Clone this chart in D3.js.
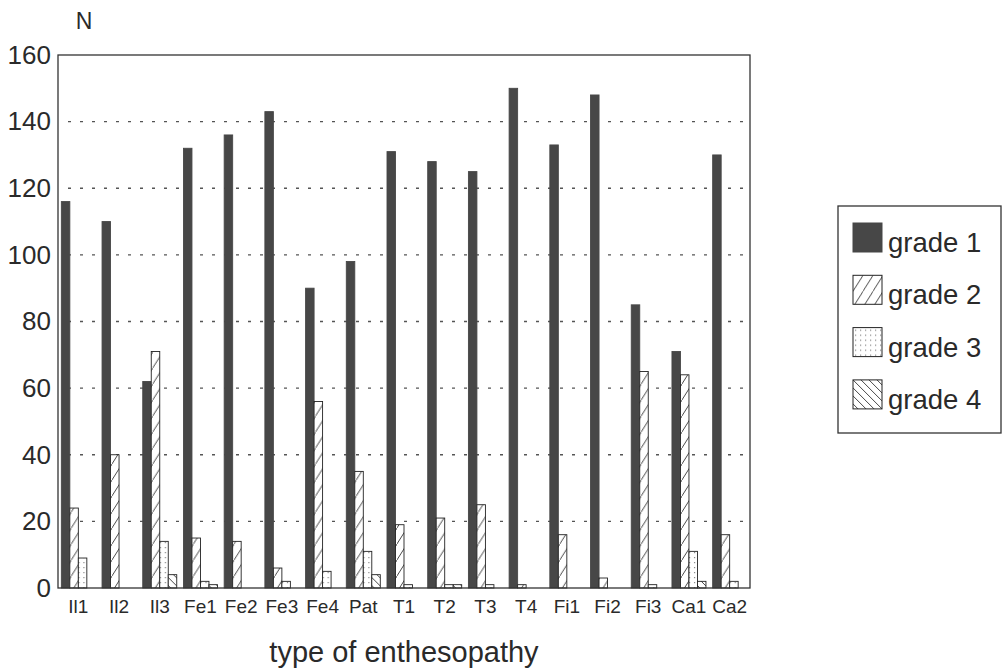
<!DOCTYPE html>
<html>
<head>
<meta charset="utf-8">
<script src="https://cdn.jsdelivr.net/npm/d3@7"></script>
<style>
  body { margin: 0; background: #fff; }
  text { font-family: "Liberation Sans", Arial, sans-serif; fill: #2a2a2a; }
</style>
</head>
<body>
<svg id="chart" width="1006" height="671"></svg>
<script>
const categories = ['Il1', 'Il2', 'Il3', 'Fe1', 'Fe2', 'Fe3', 'Fe4', 'Pat', 'T1', 'T2', 'T3', 'T4', 'Fi1', 'Fi2', 'Fi3', 'Ca1', 'Ca2']
const grades = ['grade 1', 'grade 2', 'grade 3', 'grade 4']
const grade1 = [116, 110, 62, 132, 136, 143, 90, 98, 131, 128, 125, 150, 133, 148, 85, 71, 130]
const grade2 = [24, 40, 71, 15, 14, 6, 56, 35, 19, 21, 25, 1, 16, 3, 65, 64, 16]
const grade3 = [9, 0, 14, 2, 0, 2, 5, 11, 1, 1, 1, 0, 0, 0, 1, 11, 2]
const grade4 = [0, 0, 4, 1, 0, 0, 0, 4, 0, 1, 0, 0, 0, 0, 0, 2, 0]
const yTicks = [0, 20, 40, 60, 80, 100, 120, 140, 160]

const series = [grade1, grade2, grade3, grade4]

const plotLeft = 58, plotRight = 750, plotTop = 55, plotBottom = 588

const svg = d3.select('#chart')

// hatch patterns
const defs = svg.append('defs')
const p2 = defs.append('pattern').attr('id', 'hatch2')
  .attr('patternUnits', 'userSpaceOnUse').attr('width', 10).attr('height', 16)
p2.append('rect').attr('width', 10).attr('height', 16).attr('fill', '#fff')
p2.append('path').attr('d', 'M-2,19 L12,-3').attr('stroke', '#333').attr('stroke-width', 0.9)

const p3 = defs.append('pattern').attr('id', 'hatch3')
  .attr('patternUnits', 'userSpaceOnUse').attr('width', 5).attr('height', 5)
p3.append('rect').attr('width', 5).attr('height', 5).attr('fill', '#fff')
p3.append('rect').attr('x', 2).attr('y', 2).attr('width', 1.2).attr('height', 1.2).attr('fill', '#888')

const p4 = defs.append('pattern').attr('id', 'hatch4')
  .attr('patternUnits', 'userSpaceOnUse').attr('width', 8).attr('height', 8)
p4.append('rect').attr('width', 8).attr('height', 8).attr('fill', '#fff')
p4.append('path').attr('d', 'M-1,-1 L9,9 M-5,3 L5,13 M3,-5 L13,5').attr('stroke', '#333').attr('stroke-width', 0.9)

const fills = ['#474747', 'url(#hatch2)', 'url(#hatch3)', 'url(#hatch4)']

const xScale = d3.scaleBand()
  .domain(categories)
  .range([plotLeft, plotRight])
  .paddingInner(0.165)
  .paddingOuter(0.082)

const xSub = d3.scaleBand()
  .domain(d3.range(4))
  .range([0, xScale.bandwidth()])

const yScale = d3.scaleLinear()
  .domain([0, 160])
  .range([plotBottom, plotTop])

// grid
svg.append('g')
  .selectAll('line')
  .data(yTicks.filter(d => d > 0 && d < 160))
  .enter()
  .append('line')
  .attr('x1', plotLeft + 10)
  .attr('x2', plotRight)
  .attr('y1', d => yScale(d))
  .attr('y2', d => yScale(d))
  .attr('stroke', '#555')
  .attr('stroke-width', 1.3)
  .attr('stroke-dasharray', '3,9')

// bars
const groups = svg.append('g')
  .selectAll('g')
  .data(categories)
  .enter()
  .append('g')
  .attr('transform', d => `translate(${xScale(d)},0)`)

groups.selectAll('rect')
  .data((d, i) => series.map((s, k) => ({ k: k, v: s[i] })).filter(e => e.v > 0))
  .enter()
  .append('rect')
  .attr('x', d => xSub(d.k))
  .attr('width', xSub.bandwidth())
  .attr('y', d => yScale(d.v))
  .attr('height', d => plotBottom - yScale(d.v))
  .attr('fill', d => fills[d.k])
  .attr('stroke', d => d.k === 0 ? '#474747' : '#222')
  .attr('stroke-width', 0.9)

// frame
svg.append('rect')
  .attr('x', plotLeft).attr('y', plotTop)
  .attr('width', plotRight - plotLeft).attr('height', plotBottom - plotTop)
  .attr('fill', 'none').attr('stroke', '#333').attr('stroke-width', 1.3)

// axes
const yAxis = d3.axisLeft(yScale).tickValues(yTicks).tickSize(0).tickPadding(7)
svg.append('g')
  .attr('transform', `translate(${plotLeft},0)`)
  .call(yAxis)
  .call(g => g.select('.domain').remove())
  .selectAll('text')
  .style('font-size', '26px')
  .attr('fill', '#2a2a2a')

const xAxis = d3.axisBottom(xScale).tickSize(0).tickPadding(12)
svg.append('g')
  .attr('transform', `translate(0,${plotBottom})`)
  .call(xAxis)
  .call(g => g.select('.domain').remove())
  .selectAll('text')
  .style('font-size', '19px')
  .attr('fill', '#2a2a2a')

svg.append('text')
  .attr('x', 84).attr('y', 29)
  .attr('text-anchor', 'middle')
  .style('font-size', '23px')
  .text('N')

svg.append('text')
  .attr('x', 404).attr('y', 662)
  .attr('text-anchor', 'middle')
  .style('font-size', '29px')
  .text('type of enthesopathy')

// legend
const legend = svg.append('g')
legend.append('rect')
  .attr('x', 838).attr('y', 206)
  .attr('width', 163).attr('height', 227)
  .attr('fill', '#fff').attr('stroke', '#333').attr('stroke-width', 1.3)

const items = legend.selectAll('g.item')
  .data(grades)
  .enter()
  .append('g')
  .attr('class', 'item')
  .attr('transform', (d, i) => `translate(853,${223 + i * 52.3})`)

items.append('rect')
  .attr('width', 29).attr('height', 29)
  .attr('fill', (d, i) => fills[i])
  .attr('stroke', (d, i) => i === 0 ? '#474747' : '#222')
  .attr('stroke-width', 1)

items.append('text')
  .attr('x', 35).attr('y', 29)
  .style('font-size', '27.5px')
  .text(d => d)
</script>
</body>
</html>
